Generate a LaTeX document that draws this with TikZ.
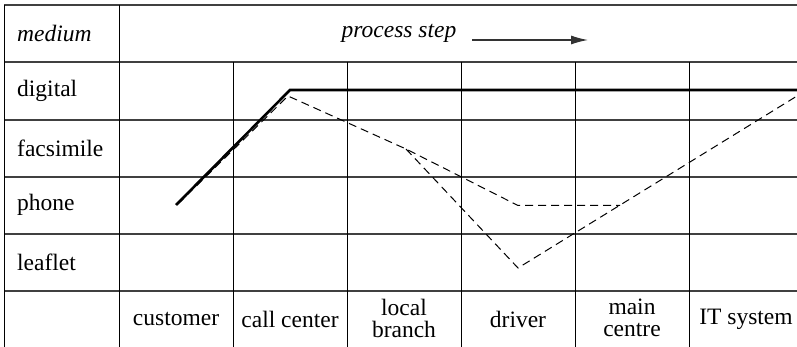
\documentclass[tikz,border=0pt]{standalone}
\usepackage{fontspec}
\setmainfont{Liberation Serif}
\usetikzlibrary{arrows.meta}
\begin{document}
\begin{tikzpicture}[x=1pt,y=-1pt,
  hrule/.style={draw=black!75,line width=1.3pt},
  vrule/.style={draw=black,line width=0.9pt},
  lbl/.style={inner sep=0pt,font=\fontsize{23.5}{25}\selectfont},
  rowlbl/.style={lbl,anchor=west},
  collbl/.style={lbl,align=center},
  mainroute/.style={line width=2.6pt},
  altroute/.style={line width=1pt,dash pattern=on 8pt off 5pt}]
\useasboundingbox (0,0) rectangle (797,347);
\begin{scope}
\clip (0,0) rectangle (797,347);
% table rules
\foreach \y in {5,62,120,177,234,291} \draw[hrule] (4,\y) -- (810,\y);
\draw[vrule] (4,5) -- (4,350);
\draw[vrule] (119,5) -- (119,350);
\foreach \x in {233,347,461,575,689} \draw[vrule] (\x,62) -- (\x,350);

% header
\node[rowlbl,font=\fontsize{23.5}{25}\selectfont\itshape] (med) at (17,33) {medium};
\node[lbl,font=\fontsize{23.5}{25}\selectfont\itshape] (ps) at (399,33) {process step};
\coordinate (psA) at (472,40);
\coordinate (psB) at (588,40);
\draw[line width=1.2pt,black!80,-{Latex[length=17pt,width=9pt]}] (psA) -- (psB);

% media
\node[rowlbl] (dig) at (17,91) {digital};
\node[rowlbl] (fax) at (17,148) {facsimile};
\node[rowlbl] (pho) at (17,205) {phone};
\node[rowlbl] (lea) at (17,262) {leaflet};

% process steps
\node[collbl] (cus) at (176,319) {customer};
\node[collbl] (cal) at (290,319) {call center};
\node[collbl,font=\fontsize{23.5}{22}\selectfont] (loc) at (404,318) {local\\branch};
\node[collbl] (dri) at (518,319) {driver};
\node[collbl,font=\fontsize{23.5}{22}\selectfont] (mai) at (632,318) {main\\centre};
\node[collbl] (its) at (746,319) {IT system};

% route points
\coordinate (s0) at (176,205);
\coordinate (s1) at (290,90);
\coordinate (s2) at (810,90);
\coordinate (d0) at (178,204);
\coordinate (d1) at (288,96);
\coordinate (d2) at (406,149);
\coordinate (d3) at (518,205.5);
\coordinate (d4) at (620,205.5);
\coordinate (d5) at (518,268);
\coordinate (d6) at (810,88);

% alternative routes
\draw[altroute] (d0) -- (d1) -- (d2) -- (d3) -- (d4);
\draw[altroute] (d2) -- (d5) -- (d6);
% main route
\draw[mainroute] (s0) -- (s1) -- (s2);
\end{scope}
\end{tikzpicture}
\end{document}
